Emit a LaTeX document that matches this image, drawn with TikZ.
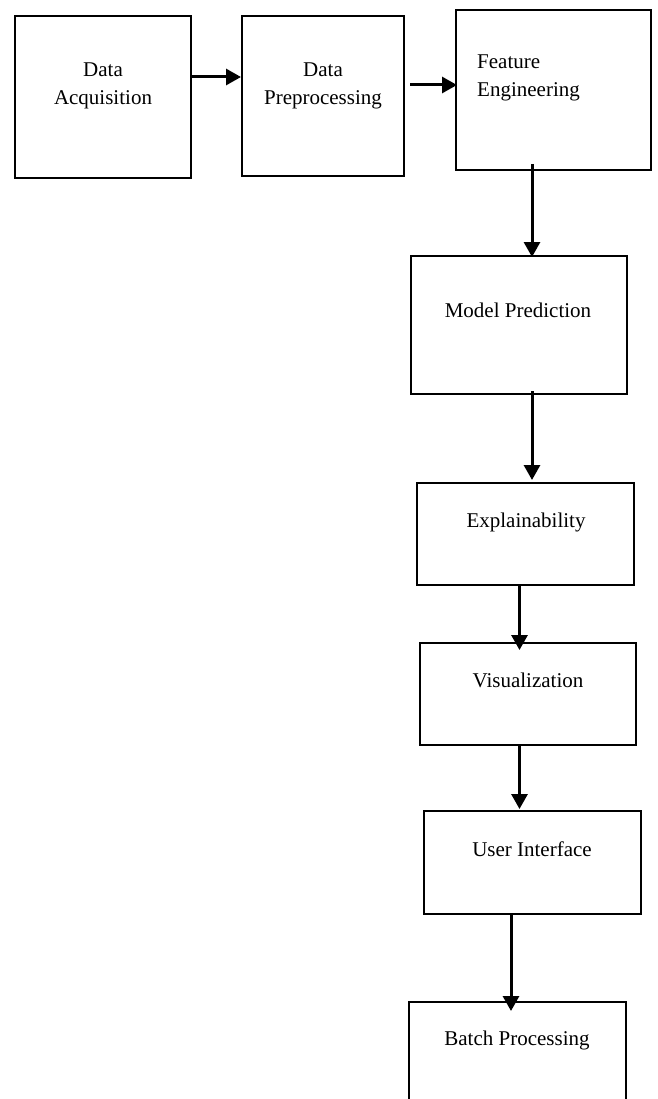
\documentclass[tikz,border=0pt]{standalone}
\usepackage{fontspec}
\setmainfont{Liberation Serif}
\usetikzlibrary{arrows.meta}
\tikzset{
  box/.style={draw=black, line width=2pt, rectangle, inner sep=0pt},
  lbl/.style={inner sep=0pt, font=\fontsize{21}{28.5}\selectfont},
  arr/.style={line width=3pt, -{Triangle[length=15pt,width=16pt]}}
}
\begin{document}
\begin{tikzpicture}[x=1pt,y=-1pt]
\clip (0,0) rectangle (657,1099);
\fill[white] (0,0) rectangle (657,1099);
% boxes
\node[box, minimum width=176pt, minimum height=162pt] (b1) at (103,97) {};
\node[box, minimum width=162pt, minimum height=160pt] (b2) at (323,96) {};
\node[box, minimum width=195pt, minimum height=160pt] (b3) at (553.5,90) {};
\node[box, minimum width=216pt, minimum height=138pt] (b4) at (519,325) {};
\node[box, minimum width=217pt, minimum height=102pt] (b5) at (525.5,534) {};
\node[box, minimum width=216pt, minimum height=102pt] (b6) at (528,694) {};
\node[box, minimum width=217pt, minimum height=103pt] (b7) at (532.5,862.5) {};
\node[box, minimum width=217pt, minimum height=110pt] (b8) at (517.5,1057) {};
% labels
\node[lbl, align=center, anchor=north] (t1) at (103,62.4) {Data\\Acquisition};
\node[lbl, align=center, anchor=north] (t2) at (323,62.4) {Data\\Preprocessing};
\node[lbl, align=left, anchor=north west] (t3) at (477,54.4) {Feature\\Engineering};
\node[lbl, anchor=base] (t4) at (518,317) {Model Prediction};
\node[lbl, anchor=base] (t5) at (526,527) {Explainability};
\node[lbl, anchor=base] (t6) at (528,687) {Visualization};
\node[lbl, anchor=base] (t7) at (532,856) {User Interface};
\node[lbl, anchor=base] (t8) at (517,1045) {Batch Processing};
% connectors
\draw[arr] ([yshift=20pt]b1.east) -- ([yshift=19pt]b2.west);
\draw[arr] ([xshift=5pt,yshift=11pt]b2.east) -- ([xshift=2pt,yshift=5pt]b3.west);
\draw[arr] ([xshift=-21.5pt,yshift=7pt]b3.south) -- ([xshift=13pt,yshift=-2pt]b4.north);
\draw[arr] ([xshift=13pt,yshift=4pt]b4.south) -- ([xshift=6.5pt,yshift=2pt]b5.north);
\draw[arr] ([xshift=-6pt]b5.south) -- ([xshift=-8.5pt,yshift=-8pt]b6.north);
\draw[arr] ([xshift=-8.5pt]b6.south) -- ([xshift=-13pt,yshift=1pt]b7.north);
\draw[arr] ([xshift=-21.5pt]b7.south) -- ([xshift=-6.5pt,yshift=-10pt]b8.north);
\end{tikzpicture}
\end{document}
